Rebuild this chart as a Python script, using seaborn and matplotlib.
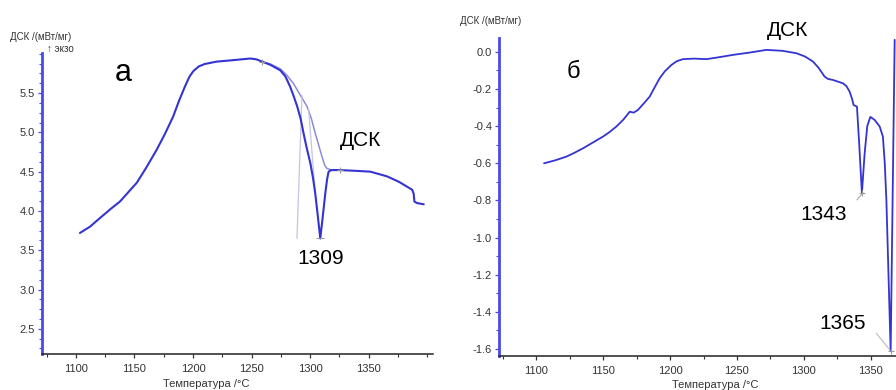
import matplotlib
matplotlib.use("Agg")
import matplotlib.pyplot as plt
import seaborn as sns
import pandas as pd
from matplotlib.ticker import MultipleLocator, FuncFormatter

sns.set_theme(style="white")
plt.rcParams['font.family'] = ['Liberation Sans', 'DejaVu Sans']

# ---- panel а data ----
temp_a = [1103.4, 1112.0, 1120.5, 1130.0, 1137.6, 1146.0, 1152.0, 1160.0, 1169.0, 1176.0,
          1183.0, 1188.0, 1193.0, 1197.0, 1200.3, 1205.0, 1210.0, 1220.0, 1235.0, 1249.0,
          1254.0, 1259.0, 1266.0, 1274.5, 1279.0, 1283.0, 1286.0, 1289.0, 1292.0, 1294.4,
          1297.0, 1300.2, 1302.5, 1304.4, 1306.5, 1308.7, 1311.0, 1313.0, 1314.5, 1315.8,
          1318.0, 1325.8, 1340.0, 1351.5, 1365.8, 1376.0, 1387.2, 1388.5, 1389.1, 1391.4,
          1397.1]
dsc_a = [3.72, 3.80, 3.91, 4.03, 4.12, 4.26, 4.36, 4.55, 4.78, 4.98,
         5.20, 5.40, 5.58, 5.71, 5.78, 5.84, 5.87, 5.90, 5.92, 5.94,
         5.93, 5.90, 5.86, 5.79, 5.71, 5.58, 5.46, 5.33, 5.17, 4.99,
         4.81, 4.61, 4.42, 4.225, 3.95, 3.65, 3.95, 4.225, 4.40, 4.50,
         4.52, 4.52, 4.51, 4.50, 4.44, 4.37, 4.27, 4.22, 4.12, 4.10,
         4.085]
base_temp_a = [1258.9, 1266.0, 1274.5, 1280.0, 1285.9, 1291.0, 1297.4, 1301.0, 1304.4,
               1307.5, 1310.2, 1312.5, 1314.5, 1318.7, 1325.8]
base_dsc_a = [5.90, 5.87, 5.81, 5.73, 5.62, 5.49, 5.33, 5.18, 4.99,
              4.83, 4.69, 4.58, 4.54, 4.52, 4.52]
tangent1_t = [1293.1, 1288.8]
tangent1_v = [5.47, 3.65]
tangent2_t = [1298.7, 1304.4]
tangent2_v = [5.30, 4.225]
markers_a_t = [1258.9, 1325.8]
markers_a_v = [5.90, 4.52]
peak_a = (1308.7, 3.65)
xticks_a = [1100, 1150, 1200, 1250, 1300, 1350]
yticks_a = [2.5, 3.0, 3.5, 4.0, 4.5, 5.0, 5.5]

# ---- panel б data ----
temp_b = [1105.7, 1114.0, 1122.4, 1128.0, 1134.9, 1142.0, 1149.8, 1155.0, 1159.8, 1165.0,
          1169.8, 1172.8, 1176.0, 1180.0, 1184.7, 1188.5, 1192.2, 1196.0, 1201.0, 1205.0,
          1209.6, 1218.0, 1227.2, 1237.0, 1247.0, 1260.0, 1272.0, 1284.0, 1294.5, 1301.0,
          1306.9, 1311.0, 1315.6, 1318.0, 1321.8, 1329.3, 1332.0, 1334.3, 1336.0, 1337.3,
          1339.8, 1341.5, 1343.5, 1345.5, 1347.5, 1349.8, 1353.0, 1356.8, 1359.2, 1360.6,
          1361.8, 1365.0, 1368.0]
dsc_b = [-0.600, -0.584, -0.564, -0.545, -0.519, -0.489, -0.456, -0.430, -0.402, -0.365,
         -0.322, -0.327, -0.312, -0.280, -0.241, -0.190, -0.142, -0.105, -0.070, -0.050,
         -0.039, -0.036, -0.039, -0.028, -0.016, -0.003, 0.011, 0.006, -0.007, -0.025,
         -0.052, -0.085, -0.133, -0.145, -0.151, -0.169, -0.185, -0.214, -0.250, -0.286,
         -0.295, -0.500, -0.761, -0.550, -0.400, -0.350, -0.366, -0.402, -0.456, -0.600,
         -0.797, -1.611, 0.065]
peak_b1 = (1343.5, -0.761)
peak_b2 = (1365.0, -1.611)
yticks_b = [-1.6, -1.4, -1.2, -1.0, -0.8, -0.6, -0.4, -0.2, 0.0]

df_a = pd.DataFrame({"T": temp_a, "DSC": dsc_a})
df_a_base = pd.DataFrame({"T": base_temp_a, "DSC": base_dsc_a})
df_b = pd.DataFrame({"T": temp_b, "DSC": dsc_b})

W, H = 896, 390
fig = plt.figure(figsize=(W / 100, H / 100), dpi=100)
axA = fig.add_axes([42 / W, 1 - 354 / H, (433 - 42) / W, (354 - 53) / H])
axB = fig.add_axes([499 / W, 1 - 356 / H, (896 - 499) / W, (356 - 38) / H])

blue = "#3434d2"
light = "#8c8cd4"
pale = "#c4c4e4"
spine_blue = "#4a4ae6"
tick_col = "#333333"

# panel а
sns.lineplot(data=df_a_base, x="T", y="DSC", ax=axA, color=light, lw=1.1,
             estimator=None, sort=False)
axA.plot(tangent1_t, tangent1_v, color=pale, lw=0.9)
axA.plot(tangent2_t, tangent2_v, color=pale, lw=0.9)
sns.lineplot(data=df_a, x="T", y="DSC", ax=axA, color=blue, lw=1.5,
             estimator=None, sort=False)
axA.plot(markers_a_t, markers_a_v, ls="none", marker="+", ms=5, mew=0.8, color="#9a9a9a")
axA.plot([peak_a[0]], [peak_a[1]], ls="none", marker="_", ms=6, mew=0.8, color="#9a9a9a")

axA.set_xlim(1071, 1405)
axA.set_ylim(2.18, 6.01)
axA.set_xticks(xticks_a)
axA.xaxis.set_minor_locator(MultipleLocator(25))
axA.set_yticks(yticks_a)
axA.yaxis.set_minor_locator(MultipleLocator(0.125))

axA.text(1140, 5.75, "а", fontsize=22, ha="center", va="center", color="black")
axA.text(1343.4, 4.90, "ДСК", fontsize=15, ha="center", va="center", color="black")
axA.text(1308.7, 3.40, "1309", fontsize=15, ha="center", va="center", color="black")

# panel б
sns.lineplot(data=df_b, x="T", y="DSC", ax=axB, color=blue, lw=1.3,
             estimator=None, sort=False)
axB.plot([1339.8, 1344.3], [-0.797, -0.758], color="#aaaaaa", lw=0.8)
axB.plot([1354.3, 1364.5], [-1.516, -1.606], color="#bbbbbb", lw=0.8)
axB.plot([peak_b1[0], peak_b2[0]], [peak_b1[1], peak_b2[1]], ls="none", marker="+",
         ms=5, mew=0.8, color="#9a9a9a")
axB.set_xlim(1072, 1369)
axB.set_ylim(-1.638, 0.075)
axB.xaxis.set_major_locator(MultipleLocator(50))
axB.xaxis.set_minor_locator(MultipleLocator(25))
axB.set_yticks(yticks_b)
axB.yaxis.set_minor_locator(MultipleLocator(0.1))
axB.yaxis.set_major_formatter(FuncFormatter(lambda v, p: f"{v:.1f}".replace("-0.0", "0.0")))

axB.text(1127.4, -0.106, "б", fontsize=17, ha="center", va="center", color="black")
axB.text(1288.2, 0.115, "ДСК", fontsize=15, ha="center", va="center", color="black", clip_on=False)
axB.text(1314.9, -0.878, "1343", fontsize=15, ha="center", va="center", color="black")
axB.text(1329.0, -1.462, "1365", fontsize=15, ha="center", va="center", color="black")

for ax in (axA, axB):
    ax.set_xlabel("")
    ax.set_ylabel("")
    ax.set_facecolor("white")
    for s in ("top", "right"):
        ax.spines[s].set_visible(False)
    ax.spines["left"].set_color(spine_blue)
    ax.spines["left"].set_linewidth(2.0)
    ax.spines["bottom"].set_color("#222222")
    ax.spines["bottom"].set_linewidth(1.1)
    ax.tick_params(axis="x", which="major", direction="out", length=3, width=0.9,
                   color="#333333", labelsize=8, labelcolor=tick_col, pad=4, bottom=True)
    ax.tick_params(axis="x", which="minor", direction="out", length=2, width=0.8,
                   color="#333333", bottom=True)
    ax.tick_params(axis="y", which="major", direction="out", length=3, width=0.9,
                   color=spine_blue, labelsize=8, labelcolor=tick_col, pad=2, left=True)
    ax.tick_params(axis="y", which="minor", direction="out", length=2, width=0.8,
                   color=spine_blue, left=True)
    ax.grid(False)

fig.text(10 / W, 1 - 37 / H, "ДСК /(мВт/мг)", fontsize=7, color="#333333", ha="left", va="center")
fig.text(47 / W, 1 - 49 / H, "↑ экзо", fontsize=7, color="#333333", ha="left", va="center")
fig.text(460 / W, 1 - 21 / H, "ДСК /(мВт/мг)", fontsize=7, color="#333333", ha="left", va="center")
fig.text(206 / W, 1 - 384 / H, "Температура /°C", fontsize=8, color="#333333", ha="center", va="center")
fig.text(715 / W, 1 - 385 / H, "Температура /°C", fontsize=8, color="#333333", ha="center", va="center")

fig.savefig("out.png", dpi=100, facecolor="white")
